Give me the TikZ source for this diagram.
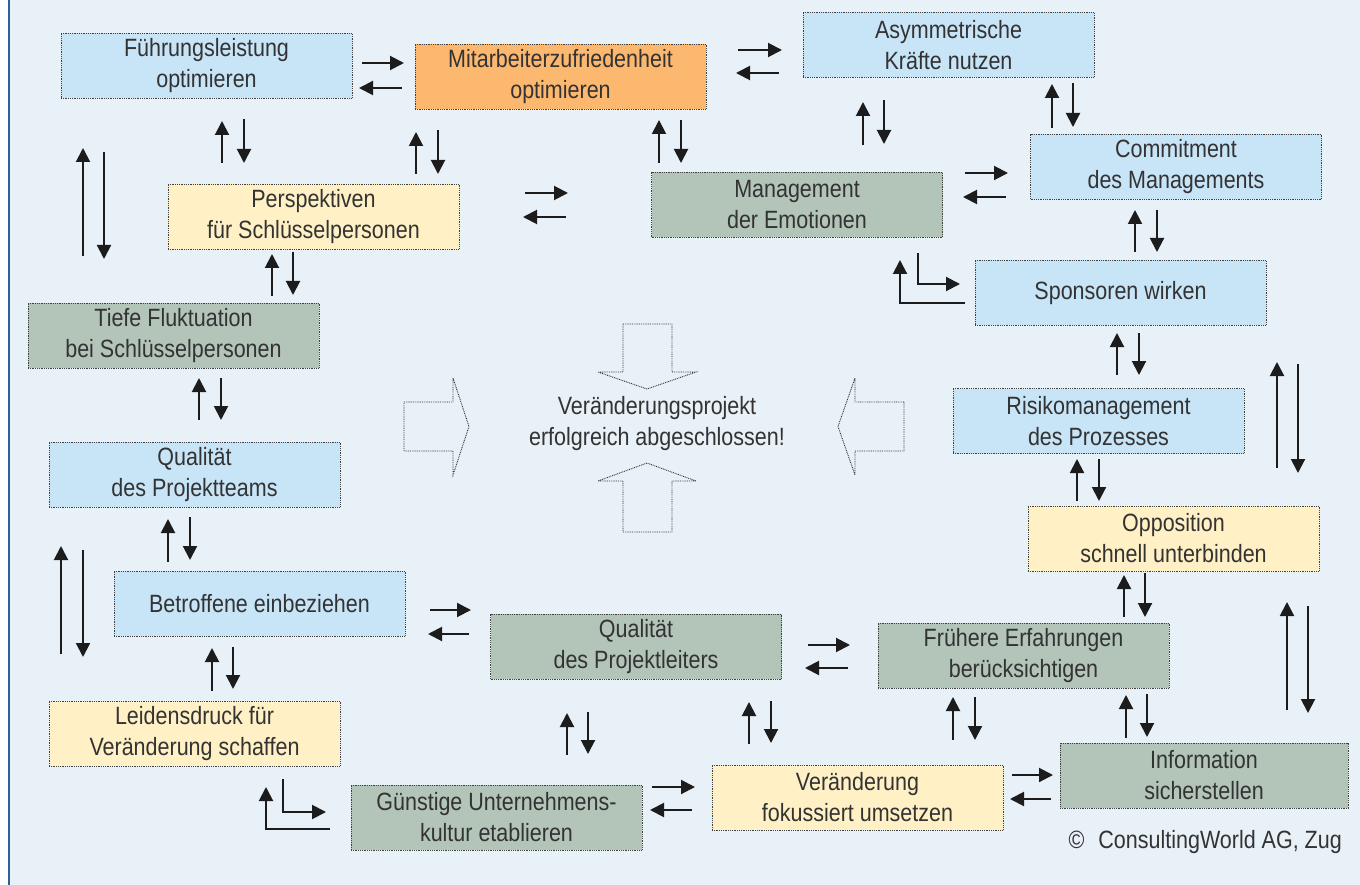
\documentclass[tikz,border=0pt]{standalone}
\usepackage{fontspec}
\setmainfont{Liberation Sans}[FakeStretch=0.86]
\usetikzlibrary{arrows.meta}
\definecolor{bg}{HTML}{E8F0F8}
\definecolor{cblue}{HTML}{C8E4F7}
\definecolor{corange}{HTML}{FDB870}
\definecolor{cyellow}{HTML}{FFF1C5}
\definecolor{cgreen}{HTML}{B3C4B9}
\definecolor{framec}{HTML}{2F5F9F}
\definecolor{txt}{HTML}{333333}
\definecolor{arrc}{HTML}{1C1C1C}
\begin{document}
\begin{tikzpicture}[x=1pt,y=-1pt,
 box/.style={draw=black!75, line width=0.9pt, dash pattern=on 0.9pt off 0.9pt, minimum width=291pt, minimum height=65pt, align=center, text=txt, font=\fontsize{25}{31}\selectfont, inner sep=0pt},
 plain/.style={align=center, text=txt, font=\fontsize{25}{31}\selectfont, inner sep=0pt},
 arr/.style={draw=arrc, line width=2pt, -{Triangle[length=14pt,width=14pt]}},
 blk/.style={draw=black!80, line width=0.9pt, dash pattern=on 0.9pt off 0.9pt, line join=miter},
]
\useasboundingbox (0,0) rectangle (1360,885);
\fill[white] (0,0) rectangle (1360,885);
\fill[bg] (8,0) rectangle (1360,885);
\draw[framec, line width=2pt] (8.5,0) -- (8.5,885);

% boxes
\node[box, fill=cblue]   (fuehr)  at (206.5,66)    {Führungsleistung\\optimieren};
\node[box, fill=corange] (mitar)  at (560.5,76.5)  {Mitarbeiterzufriedenheit\\optimieren};
\node[box, fill=cblue]   (asym)   at (948.5,45)    {Asymmetrische\\Kräfte nutzen};
\node[box, fill=cblue]   (commit) at (1176,166.5)  {Commitment\\des Managements};
\node[box, fill=cgreen]  (emot)   at (797,205)     {Management\\der Emotionen};
\node[box, fill=cyellow] (persp)  at (313.5,216.5) {Perspektiven\\für Schlüsselpersonen};
\node[box, fill=cblue]   (spons)  at (1120.5,293)  {Sponsoren wirken};
\node[box, fill=cgreen]  (tiefe)  at (173.5,335.5) {Tiefe Fluktuation\\bei Schlüsselpersonen};
\node[box, fill=cblue]   (risiko) at (1098.5,421)  {Risikomanagement\\des Prozesses};
\node[box, fill=cblue]   (qteam)  at (194.5,474.5) {Qualität\\des Projektteams};
\node[box, fill=cyellow] (oppos)  at (1173.5,538.5){Opposition\\schnell unterbinden};
\node[box, fill=cblue]   (betr)   at (259.5,603.5) {Betroffene einbeziehen};
\node[box, fill=cgreen]  (qpl)    at (636,646.5)   {Qualität\\des Projektleiters};
\node[box, fill=cgreen]  (frueh)  at (1023.5,655.5){Frühere Erfahrungen\\berücksichtigen};
\node[box, fill=cyellow] (leid)   at (194.5,733.5) {Leidensdruck für\\Veränderung schaffen};
\node[box, fill=cgreen, minimum width=288pt] (info) at (1204,775.5) {Information\\sicherstellen};
\node[box, fill=cyellow] (veraend) at (857.5,797.5){Veränderung\\fokussiert umsetzen};
\node[box, fill=cgreen]  (guenst) at (496.5,817.5) {Günstige Unternehmens-\\kultur etablieren};

% centre
\node[plain] (goal) at (657,424) {Veränderungsprojekt\\erfolgreich abgeschlossen!};
\node[plain, anchor=east] (copy) at (1342,842) {©\hspace{14pt}ConsultingWorld AG, Zug};

% block arrows
\draw[blk] (623,324) -- (672,324) -- (672,372) -- (696,372) -- (647,389) -- (598,372) -- (623,372) -- cycle;
\draw[blk] (623,532) -- (672,532) -- (672,481) -- (696,481) -- (647,463) -- (598,481) -- (623,481) -- cycle;
\draw[blk] (404,402) -- (453,402) -- (453,378) -- (469,426.5) -- (453,475) -- (453,451) -- (404,451) -- cycle;
\draw[blk] (904,402) -- (855,402) -- (855,378) -- (838,426.5) -- (855,475) -- (855,451) -- (904,451) -- cycle;

% horizontal pairs
\draw[arr] (362,63) -- (404,63);   \draw[arr] (402,88) -- (359,88);
\draw[arr] (738,50) -- (782,50);   \draw[arr] (779,73) -- (736,73);
\draw[arr] (525,193) -- (568,193); \draw[arr] (566,217) -- (523,217);
\draw[arr] (965,173) -- (1008,173);\draw[arr] (1006,197) -- (963,197);
\draw[arr] (430,610) -- (471,610); \draw[arr] (469,634) -- (428,634);
\draw[arr] (808,645) -- (850,645); \draw[arr] (848,668) -- (805,668);
\draw[arr] (652,787) -- (695,787); \draw[arr] (692,810) -- (650,810);
\draw[arr] (1012,775) -- (1053,775);\draw[arr] (1051,799) -- (1010,799);

% vertical pairs
\draw[arr] (222,163) -- (222,121); \draw[arr] (244,119) -- (244,163);
\draw[arr] (83,256) -- (83,148);   \draw[arr] (104,152) -- (104,259);
\draw[arr] (416,174) -- (416,132); \draw[arr] (438,130) -- (438,174);
\draw[arr] (272,296) -- (272,254); \draw[arr] (293,252) -- (293,295);
\draw[arr] (659,163) -- (659,120); \draw[arr] (681,120) -- (681,163);
\draw[arr] (863,145) -- (863,102); \draw[arr] (884,100) -- (884,144);
\draw[arr] (1052,128) -- (1052,84);\draw[arr] (1073,83) -- (1073,127);
\draw[arr] (1135,252) -- (1135,210);\draw[arr] (1157,210) -- (1157,252);
\draw[arr] (1117,375) -- (1117,333);\draw[arr] (1139,333) -- (1139,375);
\draw[arr] (1277,468) -- (1277,362);\draw[arr] (1298,364) -- (1298,473);
\draw[arr] (1077,501) -- (1077,459);\draw[arr] (1099,459) -- (1099,501);
\draw[arr] (1124,617) -- (1124,575);\draw[arr] (1145,573) -- (1145,617);
\draw[arr] (1287,710) -- (1287,602);\draw[arr] (1308,606) -- (1308,713);
\draw[arr] (1126,738) -- (1126,695);\draw[arr] (1147,694) -- (1147,737);
\draw[arr] (199,420) -- (199,378); \draw[arr] (221,378) -- (221,420);
\draw[arr] (168,562) -- (168,519); \draw[arr] (190,517) -- (190,560);
\draw[arr] (61,654) -- (61,546);   \draw[arr] (83,550) -- (83,657);
\draw[arr] (212,691) -- (212,648); \draw[arr] (233,647) -- (233,689);
\draw[arr] (567,755) -- (567,713); \draw[arr] (588,712) -- (588,754);
\draw[arr] (749,744) -- (749,702); \draw[arr] (771,701) -- (771,743);
\draw[arr] (953,740) -- (953,697); \draw[arr] (975,697) -- (975,740);

% L-shaped arrows
\draw[arr] (965,303) -- (900,303) -- (900,260);
\draw[arr] (918,253) -- (918,284) -- (960,284);
\draw[arr] (330,829) -- (266,829) -- (266,787);
\draw[arr] (283,779) -- (283,812) -- (326,812);
\end{tikzpicture}
\end{document}
